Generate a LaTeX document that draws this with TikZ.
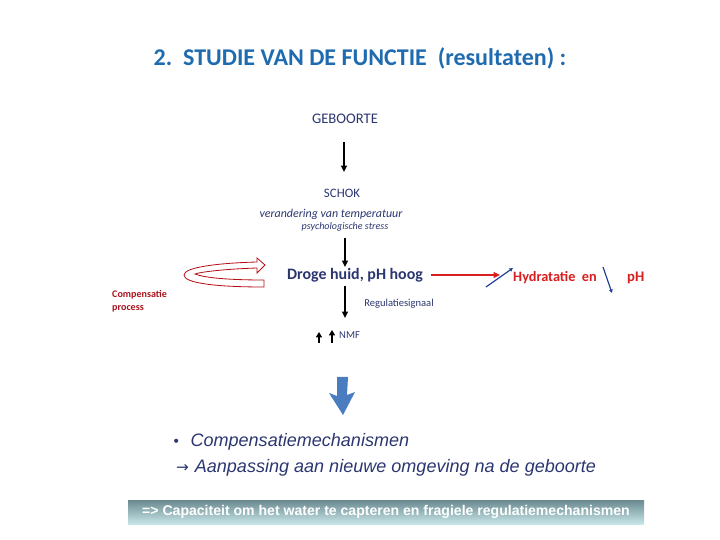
\documentclass[tikz,border=0pt]{standalone}
\usepackage{fontspec}
\setmainfont{Carlito}
\newfontfamily\arialfont{Liberation Sans}
\newfontfamily\symfont{DejaVu Sans}
\usetikzlibrary{arrows.meta}

\definecolor{titleblue}{HTML}{1F6BB0}
\definecolor{navy}{HTML}{2B3670}
\definecolor{darkred}{HTML}{A8141E}
\definecolor{brightred}{HTML}{D81E1E}
\definecolor{arrowblue}{HTML}{4A7CC0}
\definecolor{smallblue}{HTML}{1F3F96}
\definecolor{barbottom}{HTML}{C8E6E8}
\definecolor{bartop}{HTML}{6A8A90}

\tikzset{
    flow/.style={-{Triangle[length=5.5pt,width=5pt]}, line width=1.4pt},
    thinflow/.style={-{Triangle[length=3pt,width=3pt]}, line width=1pt},
    upflow/.style={-{Triangle[length=4.5pt,width=5pt]}, line width=1.4pt},
    label/.style={inner sep=0pt, text=navy}
}

\begin{document}
\begin{tikzpicture}[x=0.03cm, y=-0.03cm]
        \useasboundingbox (0, 0) rectangle (720, 540);
        \node[label, text=titleblue, font=\bfseries\fontsize{20.5}{22}\selectfont] (title) at (360, 58) {2.\ \ STUDIE VAN DE FUNCTIE\ \ (resultaten) :};
        \node[label, font=\fontsize{12.5}{14}\selectfont] (geboorte) at (345, 119) {GEBOORTE};
        \node[label, font=\fontsize{11}{13}\selectfont] (schok) at (342, 193) {SCHOK};
        \node[label, font=\itshape\fontsize{10.2}{12}\selectfont] (temp) at (331, 214) {verandering van temperatuur};
        \node[label, font=\itshape\fontsize{8.6}{10}\selectfont] (stress) at (345, 227) {psychologische stress};
        \node[label, font=\bfseries\fontsize{13.6}{16}\selectfont] (droog) at (355, 275) {Droge huid, pH hoog};
        \node[label, font=\fontsize{9}{11}\selectfont] (signaal) at (399, 304) {Regulatiesignaal};
        \node[label, anchor=west, align=left, text=darkred, font=\bfseries\fontsize{8.6}{11}\selectfont] (comp) at (112, 301) {Compensatie\\process};
        \node[label, anchor=west, font=\fontsize{9}{11}\selectfont] (nmf) at (339, 335) {NMF};
        \node[label, anchor=west, text=brightred, font=\bfseries\fontsize{12.2}{14}\selectfont] (hydra) at (513, 278) {Hydratatie\ \ en};
        \node[label, anchor=west, text=brightred, font=\bfseries\fontsize{12.5}{14}\selectfont] (ph) at (627, 278) {pH};

        % pijlen
        \coordinate (a1) at (344, 142);
        \coordinate (a2) at (344, 172);
        \draw[flow] (a1) -- (a2);
        \coordinate (b1) at (345, 238);
        \coordinate (b2) at (345, 267);
        \draw[flow] (b1) -- (b2);
        \coordinate (c1) at (345, 286);
        \coordinate (c2) at (345, 318);
        \draw[flow] (c1) -- (c2);
        \draw[flow, brightred] (droog.east) ++(8, 0) coordinate (r1) -- (500, 275) coordinate (r2);
        \coordinate (u1) at (486, 287);
        \coordinate (u2) at (513, 268);
        \draw[thinflow, smallblue] (u1) -- (u2);
        \coordinate (d1) at (603, 267);
        \coordinate (d2) at (612, 293);
        \draw[thinflow, smallblue] (d1) -- (d2);
        \coordinate (n1) at (319, 343);
        \coordinate (n2) at (319, 332);
        \draw[upflow] (n1) -- (n2);
        \coordinate (n3) at (332, 343);
        \coordinate (n4) at (332, 330);
        \draw[upflow] (n3) -- (n4);

        % compensatie lus
        \draw[darkred!85!red, line width=0.7pt, fill=white]
            (264, 287) .. controls (215, 287) and (184, 283) .. (184, 275)
            .. controls (184, 267) and (220, 263) .. (257, 262)
            -- (257, 258) -- (265, 265) -- (257, 273) -- (257, 268)
            .. controls (225, 269) and (200, 272) .. (195, 274)
            .. controls (205, 278) and (230, 280) .. (264, 280) -- cycle;

        % blauwe blokpijl
        \fill[arrowblue] (337, 377) -- (348, 377) -- (347, 395) -- (355, 392) -- (343, 415)
            -- (329, 393) -- (337, 396) -- cycle;

        \node[label, anchor=west, font=\arialfont\itshape\fontsize{15.4}{18}\selectfont] (mech) at (172, 442) {{\upshape\symfont\fontsize{12}{12}\selectfont •}\ \ Compensatiemechanismen};
        \node[label, anchor=west, font=\arialfont\itshape\fontsize{15.4}{18}\selectfont] (aanp) at (176, 468) {{\upshape\symfont\fontsize{13}{14}\selectfont →}\hspace{5pt}Aanpassing aan nieuwe omgeving na de geboorte};

        \node[shade, top color=bartop, bottom color=barbottom, minimum width=516*0.03cm, minimum height=24*0.03cm, inner sep=0pt,
            text=white, font=\arialfont\bfseries\fontsize{12}{13}\selectfont] (bar) at (386, 512) {=> Capaciteit om het water te capteren en fragiele regulatiemechanismen};
    \end{tikzpicture}
\end{document}
